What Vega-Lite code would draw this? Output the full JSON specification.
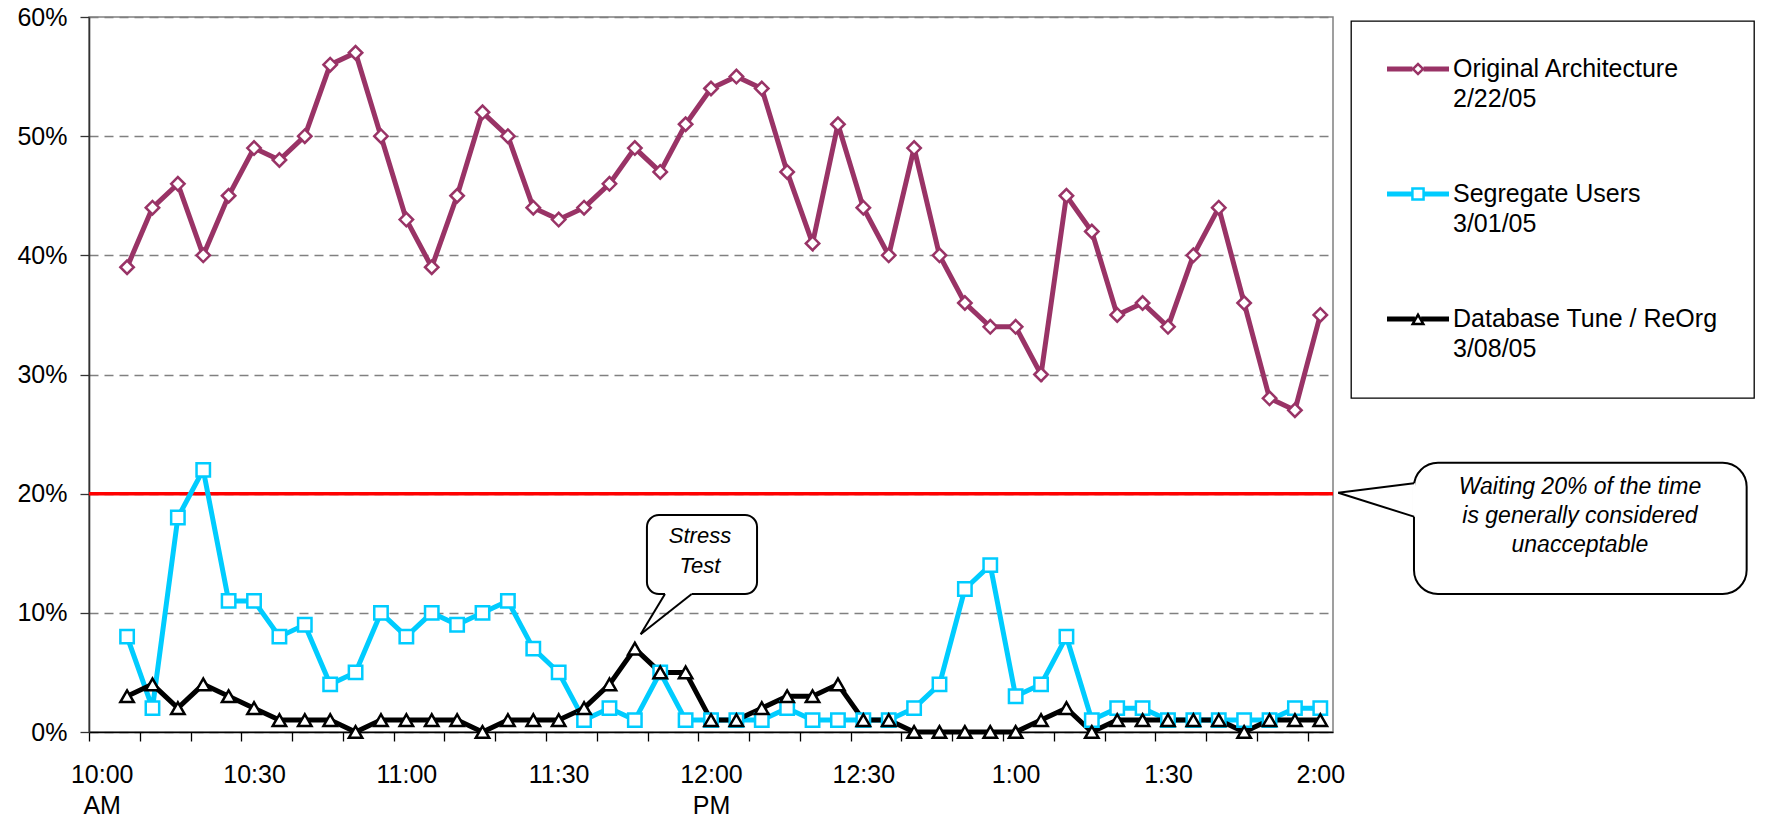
{
  "$schema": "https://vega.github.io/schema/vega-lite/v6.json",
  "width": 1244,
  "height": 715,
  "autosize": {"type": "none"},
  "padding": {"left": 89, "top": 17, "right": 443, "bottom": 87},
  "background": "white",
  "config": {
    "font": "Liberation Sans",
    "view": {"stroke": "#808080", "strokeWidth": 1.5},
    "legend": {"strokeWidth": 1.3}
  },
  "data": {
    "format": {"parse": {"time": "date:'%H:%M'"}},
    "values": [
      {"series": "Original Architecture", "time": "10:05", "pct": 39},
      {"series": "Original Architecture", "time": "10:10", "pct": 44},
      {"series": "Original Architecture", "time": "10:15", "pct": 46},
      {"series": "Original Architecture", "time": "10:20", "pct": 40},
      {"series": "Original Architecture", "time": "10:25", "pct": 45},
      {"series": "Original Architecture", "time": "10:30", "pct": 49},
      {"series": "Original Architecture", "time": "10:35", "pct": 48},
      {"series": "Original Architecture", "time": "10:40", "pct": 50},
      {"series": "Original Architecture", "time": "10:45", "pct": 56},
      {"series": "Original Architecture", "time": "10:50", "pct": 57},
      {"series": "Original Architecture", "time": "10:55", "pct": 50},
      {"series": "Original Architecture", "time": "11:00", "pct": 43},
      {"series": "Original Architecture", "time": "11:05", "pct": 39},
      {"series": "Original Architecture", "time": "11:10", "pct": 45},
      {"series": "Original Architecture", "time": "11:15", "pct": 52},
      {"series": "Original Architecture", "time": "11:20", "pct": 50},
      {"series": "Original Architecture", "time": "11:25", "pct": 44},
      {"series": "Original Architecture", "time": "11:30", "pct": 43},
      {"series": "Original Architecture", "time": "11:35", "pct": 44},
      {"series": "Original Architecture", "time": "11:40", "pct": 46},
      {"series": "Original Architecture", "time": "11:45", "pct": 49},
      {"series": "Original Architecture", "time": "11:50", "pct": 47},
      {"series": "Original Architecture", "time": "11:55", "pct": 51},
      {"series": "Original Architecture", "time": "12:00", "pct": 54},
      {"series": "Original Architecture", "time": "12:05", "pct": 55},
      {"series": "Original Architecture", "time": "12:10", "pct": 54},
      {"series": "Original Architecture", "time": "12:15", "pct": 47},
      {"series": "Original Architecture", "time": "12:20", "pct": 41},
      {"series": "Original Architecture", "time": "12:25", "pct": 51},
      {"series": "Original Architecture", "time": "12:30", "pct": 44},
      {"series": "Original Architecture", "time": "12:35", "pct": 40},
      {"series": "Original Architecture", "time": "12:40", "pct": 49},
      {"series": "Original Architecture", "time": "12:45", "pct": 40},
      {"series": "Original Architecture", "time": "12:50", "pct": 36},
      {"series": "Original Architecture", "time": "12:55", "pct": 34},
      {"series": "Original Architecture", "time": "13:00", "pct": 34},
      {"series": "Original Architecture", "time": "13:05", "pct": 30},
      {"series": "Original Architecture", "time": "13:10", "pct": 45},
      {"series": "Original Architecture", "time": "13:15", "pct": 42},
      {"series": "Original Architecture", "time": "13:20", "pct": 35},
      {"series": "Original Architecture", "time": "13:25", "pct": 36},
      {"series": "Original Architecture", "time": "13:30", "pct": 34},
      {"series": "Original Architecture", "time": "13:35", "pct": 40},
      {"series": "Original Architecture", "time": "13:40", "pct": 44},
      {"series": "Original Architecture", "time": "13:45", "pct": 36},
      {"series": "Original Architecture", "time": "13:50", "pct": 28},
      {"series": "Original Architecture", "time": "13:55", "pct": 27},
      {"series": "Original Architecture", "time": "14:00", "pct": 35},
      {"series": "Segregate Users", "time": "10:05", "pct": 8},
      {"series": "Segregate Users", "time": "10:10", "pct": 2},
      {"series": "Segregate Users", "time": "10:15", "pct": 18},
      {"series": "Segregate Users", "time": "10:20", "pct": 22},
      {"series": "Segregate Users", "time": "10:25", "pct": 11},
      {"series": "Segregate Users", "time": "10:30", "pct": 11},
      {"series": "Segregate Users", "time": "10:35", "pct": 8},
      {"series": "Segregate Users", "time": "10:40", "pct": 9},
      {"series": "Segregate Users", "time": "10:45", "pct": 4},
      {"series": "Segregate Users", "time": "10:50", "pct": 5},
      {"series": "Segregate Users", "time": "10:55", "pct": 10},
      {"series": "Segregate Users", "time": "11:00", "pct": 8},
      {"series": "Segregate Users", "time": "11:05", "pct": 10},
      {"series": "Segregate Users", "time": "11:10", "pct": 9},
      {"series": "Segregate Users", "time": "11:15", "pct": 10},
      {"series": "Segregate Users", "time": "11:20", "pct": 11},
      {"series": "Segregate Users", "time": "11:25", "pct": 7},
      {"series": "Segregate Users", "time": "11:30", "pct": 5},
      {"series": "Segregate Users", "time": "11:35", "pct": 1},
      {"series": "Segregate Users", "time": "11:40", "pct": 2},
      {"series": "Segregate Users", "time": "11:45", "pct": 1},
      {"series": "Segregate Users", "time": "11:50", "pct": 5},
      {"series": "Segregate Users", "time": "11:55", "pct": 1},
      {"series": "Segregate Users", "time": "12:00", "pct": 1},
      {"series": "Segregate Users", "time": "12:05", "pct": 1},
      {"series": "Segregate Users", "time": "12:10", "pct": 1},
      {"series": "Segregate Users", "time": "12:15", "pct": 2},
      {"series": "Segregate Users", "time": "12:20", "pct": 1},
      {"series": "Segregate Users", "time": "12:25", "pct": 1},
      {"series": "Segregate Users", "time": "12:30", "pct": 1},
      {"series": "Segregate Users", "time": "12:35", "pct": 1},
      {"series": "Segregate Users", "time": "12:40", "pct": 2},
      {"series": "Segregate Users", "time": "12:45", "pct": 4},
      {"series": "Segregate Users", "time": "12:50", "pct": 12},
      {"series": "Segregate Users", "time": "12:55", "pct": 14},
      {"series": "Segregate Users", "time": "13:00", "pct": 3},
      {"series": "Segregate Users", "time": "13:05", "pct": 4},
      {"series": "Segregate Users", "time": "13:10", "pct": 8},
      {"series": "Segregate Users", "time": "13:15", "pct": 1},
      {"series": "Segregate Users", "time": "13:20", "pct": 2},
      {"series": "Segregate Users", "time": "13:25", "pct": 2},
      {"series": "Segregate Users", "time": "13:30", "pct": 1},
      {"series": "Segregate Users", "time": "13:35", "pct": 1},
      {"series": "Segregate Users", "time": "13:40", "pct": 1},
      {"series": "Segregate Users", "time": "13:45", "pct": 1},
      {"series": "Segregate Users", "time": "13:50", "pct": 1},
      {"series": "Segregate Users", "time": "13:55", "pct": 2},
      {"series": "Segregate Users", "time": "14:00", "pct": 2},
      {"series": "Database Tune / ReOrg", "time": "10:05", "pct": 3},
      {"series": "Database Tune / ReOrg", "time": "10:10", "pct": 4},
      {"series": "Database Tune / ReOrg", "time": "10:15", "pct": 2},
      {"series": "Database Tune / ReOrg", "time": "10:20", "pct": 4},
      {"series": "Database Tune / ReOrg", "time": "10:25", "pct": 3},
      {"series": "Database Tune / ReOrg", "time": "10:30", "pct": 2},
      {"series": "Database Tune / ReOrg", "time": "10:35", "pct": 1},
      {"series": "Database Tune / ReOrg", "time": "10:40", "pct": 1},
      {"series": "Database Tune / ReOrg", "time": "10:45", "pct": 1},
      {"series": "Database Tune / ReOrg", "time": "10:50", "pct": 0},
      {"series": "Database Tune / ReOrg", "time": "10:55", "pct": 1},
      {"series": "Database Tune / ReOrg", "time": "11:00", "pct": 1},
      {"series": "Database Tune / ReOrg", "time": "11:05", "pct": 1},
      {"series": "Database Tune / ReOrg", "time": "11:10", "pct": 1},
      {"series": "Database Tune / ReOrg", "time": "11:15", "pct": 0},
      {"series": "Database Tune / ReOrg", "time": "11:20", "pct": 1},
      {"series": "Database Tune / ReOrg", "time": "11:25", "pct": 1},
      {"series": "Database Tune / ReOrg", "time": "11:30", "pct": 1},
      {"series": "Database Tune / ReOrg", "time": "11:35", "pct": 2},
      {"series": "Database Tune / ReOrg", "time": "11:40", "pct": 4},
      {"series": "Database Tune / ReOrg", "time": "11:45", "pct": 7},
      {"series": "Database Tune / ReOrg", "time": "11:50", "pct": 5},
      {"series": "Database Tune / ReOrg", "time": "11:55", "pct": 5},
      {"series": "Database Tune / ReOrg", "time": "12:00", "pct": 1},
      {"series": "Database Tune / ReOrg", "time": "12:05", "pct": 1},
      {"series": "Database Tune / ReOrg", "time": "12:10", "pct": 2},
      {"series": "Database Tune / ReOrg", "time": "12:15", "pct": 3},
      {"series": "Database Tune / ReOrg", "time": "12:20", "pct": 3},
      {"series": "Database Tune / ReOrg", "time": "12:25", "pct": 4},
      {"series": "Database Tune / ReOrg", "time": "12:30", "pct": 1},
      {"series": "Database Tune / ReOrg", "time": "12:35", "pct": 1},
      {"series": "Database Tune / ReOrg", "time": "12:40", "pct": 0},
      {"series": "Database Tune / ReOrg", "time": "12:45", "pct": 0},
      {"series": "Database Tune / ReOrg", "time": "12:50", "pct": 0},
      {"series": "Database Tune / ReOrg", "time": "12:55", "pct": 0},
      {"series": "Database Tune / ReOrg", "time": "13:00", "pct": 0},
      {"series": "Database Tune / ReOrg", "time": "13:05", "pct": 1},
      {"series": "Database Tune / ReOrg", "time": "13:10", "pct": 2},
      {"series": "Database Tune / ReOrg", "time": "13:15", "pct": 0},
      {"series": "Database Tune / ReOrg", "time": "13:20", "pct": 1},
      {"series": "Database Tune / ReOrg", "time": "13:25", "pct": 1},
      {"series": "Database Tune / ReOrg", "time": "13:30", "pct": 1},
      {"series": "Database Tune / ReOrg", "time": "13:35", "pct": 1},
      {"series": "Database Tune / ReOrg", "time": "13:40", "pct": 1},
      {"series": "Database Tune / ReOrg", "time": "13:45", "pct": 0},
      {"series": "Database Tune / ReOrg", "time": "13:50", "pct": 1},
      {"series": "Database Tune / ReOrg", "time": "13:55", "pct": 1},
      {"series": "Database Tune / ReOrg", "time": "14:00", "pct": 1}
    ]
  },
  "layer": [
    {
      "data": {"values": [{}]},
      "mark": {"type": "rule", "color": "#FF0000", "strokeWidth": 3.5},
      "encoding": {"y": {"datum": 20, "type": "quantitative"}}
    },
    {
      "mark": {"type": "line", "strokeWidth": 5, "strokeJoin": "miter"},
      "encoding": {
        "x": {
          "field": "time",
          "type": "temporal",
          "scale": {
            "type": "time",
            "nice": false,
            "domain": [
              {"year": 1900, "month": 1, "date": 1, "hours": 9, "minutes": 57, "seconds": 30},
              {"year": 1900, "month": 1, "date": 1, "hours": 14, "minutes": 2, "seconds": 30}
            ]
          },
          "axis": {
            "title": null,
            "grid": false,
            "values": [
              {"year": 1900, "month": 1, "date": 1, "hours": 9, "minutes": 57, "seconds": 30},
              {"year": 1900, "month": 1, "date": 1, "hours": 10, "minutes": 2, "seconds": 30},
              {"year": 1900, "month": 1, "date": 1, "hours": 10, "minutes": 7, "seconds": 30},
              {"year": 1900, "month": 1, "date": 1, "hours": 10, "minutes": 12, "seconds": 30},
              {"year": 1900, "month": 1, "date": 1, "hours": 10, "minutes": 17, "seconds": 30},
              {"year": 1900, "month": 1, "date": 1, "hours": 10, "minutes": 22, "seconds": 30},
              {"year": 1900, "month": 1, "date": 1, "hours": 10, "minutes": 27, "seconds": 30},
              {"year": 1900, "month": 1, "date": 1, "hours": 10, "minutes": 32, "seconds": 30},
              {"year": 1900, "month": 1, "date": 1, "hours": 10, "minutes": 37, "seconds": 30},
              {"year": 1900, "month": 1, "date": 1, "hours": 10, "minutes": 42, "seconds": 30},
              {"year": 1900, "month": 1, "date": 1, "hours": 10, "minutes": 47, "seconds": 30},
              {"year": 1900, "month": 1, "date": 1, "hours": 10, "minutes": 52, "seconds": 30},
              {"year": 1900, "month": 1, "date": 1, "hours": 10, "minutes": 57, "seconds": 30},
              {"year": 1900, "month": 1, "date": 1, "hours": 11, "minutes": 2, "seconds": 30},
              {"year": 1900, "month": 1, "date": 1, "hours": 11, "minutes": 7, "seconds": 30},
              {"year": 1900, "month": 1, "date": 1, "hours": 11, "minutes": 12, "seconds": 30},
              {"year": 1900, "month": 1, "date": 1, "hours": 11, "minutes": 17, "seconds": 30},
              {"year": 1900, "month": 1, "date": 1, "hours": 11, "minutes": 22, "seconds": 30},
              {"year": 1900, "month": 1, "date": 1, "hours": 11, "minutes": 27, "seconds": 30},
              {"year": 1900, "month": 1, "date": 1, "hours": 11, "minutes": 32, "seconds": 30},
              {"year": 1900, "month": 1, "date": 1, "hours": 11, "minutes": 37, "seconds": 30},
              {"year": 1900, "month": 1, "date": 1, "hours": 11, "minutes": 42, "seconds": 30},
              {"year": 1900, "month": 1, "date": 1, "hours": 11, "minutes": 47, "seconds": 30},
              {"year": 1900, "month": 1, "date": 1, "hours": 11, "minutes": 52, "seconds": 30},
              {"year": 1900, "month": 1, "date": 1, "hours": 11, "minutes": 57, "seconds": 30},
              {"year": 1900, "month": 1, "date": 1, "hours": 12, "minutes": 2, "seconds": 30},
              {"year": 1900, "month": 1, "date": 1, "hours": 12, "minutes": 7, "seconds": 30},
              {"year": 1900, "month": 1, "date": 1, "hours": 12, "minutes": 12, "seconds": 30},
              {"year": 1900, "month": 1, "date": 1, "hours": 12, "minutes": 17, "seconds": 30},
              {"year": 1900, "month": 1, "date": 1, "hours": 12, "minutes": 22, "seconds": 30},
              {"year": 1900, "month": 1, "date": 1, "hours": 12, "minutes": 27, "seconds": 30},
              {"year": 1900, "month": 1, "date": 1, "hours": 12, "minutes": 32, "seconds": 30},
              {"year": 1900, "month": 1, "date": 1, "hours": 12, "minutes": 37, "seconds": 30},
              {"year": 1900, "month": 1, "date": 1, "hours": 12, "minutes": 42, "seconds": 30},
              {"year": 1900, "month": 1, "date": 1, "hours": 12, "minutes": 47, "seconds": 30},
              {"year": 1900, "month": 1, "date": 1, "hours": 12, "minutes": 52, "seconds": 30},
              {"year": 1900, "month": 1, "date": 1, "hours": 12, "minutes": 57, "seconds": 30},
              {"year": 1900, "month": 1, "date": 1, "hours": 13, "minutes": 2, "seconds": 30},
              {"year": 1900, "month": 1, "date": 1, "hours": 13, "minutes": 7, "seconds": 30},
              {"year": 1900, "month": 1, "date": 1, "hours": 13, "minutes": 12, "seconds": 30},
              {"year": 1900, "month": 1, "date": 1, "hours": 13, "minutes": 17, "seconds": 30},
              {"year": 1900, "month": 1, "date": 1, "hours": 13, "minutes": 22, "seconds": 30},
              {"year": 1900, "month": 1, "date": 1, "hours": 13, "minutes": 27, "seconds": 30},
              {"year": 1900, "month": 1, "date": 1, "hours": 13, "minutes": 32, "seconds": 30},
              {"year": 1900, "month": 1, "date": 1, "hours": 13, "minutes": 37, "seconds": 30},
              {"year": 1900, "month": 1, "date": 1, "hours": 13, "minutes": 42, "seconds": 30},
              {"year": 1900, "month": 1, "date": 1, "hours": 13, "minutes": 47, "seconds": 30},
              {"year": 1900, "month": 1, "date": 1, "hours": 13, "minutes": 52, "seconds": 30},
              {"year": 1900, "month": 1, "date": 1, "hours": 13, "minutes": 57, "seconds": 30},
              {"year": 1900, "month": 1, "date": 1, "hours": 14, "minutes": 2, "seconds": 30}
            ],
            "labelExpr": "minutes(datum.value) % 30 != 27 ? '' : (hours(time(datum.value) + 150000) == 10 && minutes(time(datum.value) + 150000) == 0 ? ['10:00', 'AM'] : (hours(time(datum.value) + 150000) == 12 && minutes(time(datum.value) + 150000) == 0 ? ['12:00', 'PM'] : timeFormat(time(datum.value) + 150000, '%-I:%M')))",
            "labelOffset": 12.69,
            "labelFlush": false,
            "labelOverlap": false,
            "labelBound": false,
            "labelAlign": "center",
            "labelFont": "Liberation Sans",
            "labelFontSize": 25,
            "labelColor": "#000000",
            "labelLineHeight": 31,
            "labelPadding": 21,
            "tickSize": 9,
            "tickWidth": 1.3,
            "tickColor": "#000000",
            "domainColor": "#000000",
            "domainWidth": 1.6
          }
        },
        "y": {
          "field": "pct",
          "type": "quantitative",
          "scale": {"domain": [0, 60], "nice": false, "zero": true},
          "axis": {
            "title": null,
            "values": [0, 10, 20, 30, 40, 50, 60],
            "labelExpr": "datum.value + '%'",
            "grid": true,
            "gridDash": [9, 6],
            "gridColor": "#808080",
            "gridWidth": 1.3,
            "tickSize": 9,
            "tickWidth": 1.3,
            "tickColor": "#333333",
            "domainColor": "#333333",
            "domainWidth": 1.6,
            "labelPadding": 13,
            "labelFont": "Liberation Sans",
            "labelFontSize": 25,
            "labelColor": "#000000"
          }
        },
        "color": {
          "field": "series",
          "type": "nominal",
          "scale": {
            "domain": ["Original Architecture", "Segregate Users", "Database Tune / ReOrg"],
            "range": ["#993366", "#00CCFF", "#000000"]
          },
          "legend": {
            "title": null,
            "orient": "none",
            "legendX": 1262,
            "legendY": 4,
            "padding": 36,
            "rowPadding": 70,
            "labelOffset": 4,
            "symbolSize": 3844,
            "symbolStrokeWidth": 0,
            "labelFont": "Liberation Sans",
            "labelFontSize": 25,
            "labelColor": "#000000",
            "labelLimit": 600,
            "labelBaseline": "middle",
            "strokeColor": "#000000",
            "fillColor": "#ffffff",
            "labelExpr": "datum.label == 'Original Architecture' ? ['Original Architecture', '2/22/05'] : (datum.label == 'Segregate Users' ? ['Segregate Users', '3/01/05'] : ['Database Tune / ReOrg', '3/08/05'])",
            "encode": {
              "symbols": {
                "update": {
                  "y": {"value": 12},
                  "shape": {"signal": "datum.value == 'Original Architecture' ? 'M-1,-0.08L-0.18,-0.08L-0.18,0.08L-1,0.08ZM0.18,-0.08L1,-0.08L1,0.08L0.18,0.08ZM0,-0.22L0.22,0L0,0.22L-0.22,0ZM0,-0.107L-0.107,0L0,0.107L0.107,0Z' : (datum.value == 'Segregate Users' ? 'M-1,-0.08L-0.19,-0.08L-0.19,0.08L-1,0.08ZM0.19,-0.08L1,-0.08L1,0.08L0.19,0.08ZM-0.22,-0.22L0.22,-0.22L0.22,0.22L-0.22,0.22ZM-0.14,-0.14L-0.14,0.14L0.14,0.14L0.14,-0.14Z' : 'M-1,-0.08L-0.1,-0.08L-0.1,0.08L-1,0.08ZM0.1,-0.08L1,-0.08L1,0.08L0.1,0.08ZM0,-0.22L0.24,0.2L-0.24,0.2ZM0,-0.059L-0.102,0.12L0.102,0.12Z')"},
                  "fill": {"signal": "scale('color', datum.value)"},
                  "stroke": {"value": "transparent"},
                  "strokeWidth": {"value": 0},
                  "opacity": {"value": 1}
                }
              },
              "labels": {
                "update": {
                  "y": {"value": 12},
                  "lineHeight": {"value": 30}
                }
              }
            }
          }
        }
      }
    },
    {
      "mark": {"type": "point", "filled": false, "fill": "white", "strokeWidth": 2.5, "size": 180, "opacity": 1},
      "encoding": {
        "x": {"field": "time", "type": "temporal"},
        "y": {"field": "pct", "type": "quantitative"},
        "color": {"field": "series", "type": "nominal", "legend": null},
        "shape": {
          "condition": [
            {"test": "datum.series == 'Segregate Users'", "value": "square"},
            {"test": "datum.series == 'Database Tune / ReOrg'", "value": "triangle-up"}
          ],
          "value": "diamond"
        }
      }
    },
    {
      "data": {"values": [{}]},
      "mark": {"type": "rect", "fill": "white", "stroke": "black", "strokeWidth": 2, "cornerRadius": 12},
      "encoding": {
        "x": {"datum": {"year": 1900, "month": 1, "date": 1, "hours": 11, "minutes": 47, "seconds": 23}, "type": "temporal"},
        "x2": {"datum": {"year": 1900, "month": 1, "date": 1, "hours": 12, "minutes": 9, "seconds": 4}},
        "y": {"datum": 18.21, "type": "quantitative"},
        "y2": {"datum": 11.58}
      }
    },
    {
      "data": {"values": [{}]},
      "mark": {"type": "rule", "stroke": "white", "strokeWidth": 3},
      "encoding": {
        "x": {"datum": {"year": 1900, "month": 1, "date": 1, "hours": 11, "minutes": 50, "seconds": 56}, "type": "temporal"},
        "x2": {"datum": {"year": 1900, "month": 1, "date": 1, "hours": 11, "minutes": 56, "seconds": 12}},
        "y": {"datum": 11.58, "type": "quantitative"},
        "y2": {"datum": 11.58}
      }
    },
    {
      "data": {"values": [{}]},
      "mark": {"type": "rule", "stroke": "black", "strokeWidth": 2},
      "encoding": {
        "x": {"datum": {"year": 1900, "month": 1, "date": 1, "hours": 11, "minutes": 50, "seconds": 56}, "type": "temporal"},
        "x2": {"datum": {"year": 1900, "month": 1, "date": 1, "hours": 11, "minutes": 46, "seconds": 9}},
        "y": {"datum": 11.58, "type": "quantitative"},
        "y2": {"datum": 8.2}
      }
    },
    {
      "data": {"values": [{}]},
      "mark": {"type": "rule", "stroke": "black", "strokeWidth": 2},
      "encoding": {
        "x": {"datum": {"year": 1900, "month": 1, "date": 1, "hours": 11, "minutes": 46, "seconds": 9}, "type": "temporal"},
        "x2": {"datum": {"year": 1900, "month": 1, "date": 1, "hours": 11, "minutes": 56, "seconds": 12}},
        "y": {"datum": 8.2, "type": "quantitative"},
        "y2": {"datum": 11.58}
      }
    },
    {
      "data": {"values": [{}]},
      "mark": {"type": "text", "text": ["Stress", "Test"], "font": "Liberation Sans", "fontStyle": "italic", "fontSize": 22, "lineHeight": 30, "align": "center", "baseline": "middle", "fill": "#000000"},
      "encoding": {
        "x": {"datum": {"year": 1900, "month": 1, "date": 1, "hours": 11, "minutes": 57, "seconds": 50}, "type": "temporal"},
        "y": {"datum": 16.43, "type": "quantitative"}
      }
    },
    {
      "data": {"values": [{}]},
      "mark": {"type": "rect", "fill": "white", "stroke": "black", "strokeWidth": 2, "cornerRadius": 24},
      "encoding": {
        "x": {"datum": {"year": 1900, "month": 1, "date": 1, "hours": 14, "minutes": 18, "seconds": 27}, "type": "temporal"},
        "x2": {"datum": {"year": 1900, "month": 1, "date": 1, "hours": 15, "minutes": 23, "seconds": 58}},
        "y": {"datum": 22.6, "type": "quantitative"},
        "y2": {"datum": 11.58}
      }
    },
    {
      "data": {"values": [{}]},
      "mark": {"type": "rule", "stroke": "white", "strokeWidth": 3},
      "encoding": {
        "x": {"datum": {"year": 1900, "month": 1, "date": 1, "hours": 14, "minutes": 18, "seconds": 27}, "type": "temporal"},
        "y": {"datum": 20.87, "type": "quantitative"},
        "y2": {"datum": 18.07}
      }
    },
    {
      "data": {"values": [{}]},
      "mark": {"type": "rule", "stroke": "black", "strokeWidth": 2},
      "encoding": {
        "x": {"datum": {"year": 1900, "month": 1, "date": 1, "hours": 14, "minutes": 18, "seconds": 27}, "type": "temporal"},
        "x2": {"datum": {"year": 1900, "month": 1, "date": 1, "hours": 14, "minutes": 3, "seconds": 32}},
        "y": {"datum": 20.87, "type": "quantitative"},
        "y2": {"datum": 20.08}
      }
    },
    {
      "data": {"values": [{}]},
      "mark": {"type": "rule", "stroke": "black", "strokeWidth": 2},
      "encoding": {
        "x": {"datum": {"year": 1900, "month": 1, "date": 1, "hours": 14, "minutes": 3, "seconds": 32}, "type": "temporal"},
        "x2": {"datum": {"year": 1900, "month": 1, "date": 1, "hours": 14, "minutes": 18, "seconds": 27}},
        "y": {"datum": 20.08, "type": "quantitative"},
        "y2": {"datum": 18.07}
      }
    },
    {
      "data": {"values": [{}]},
      "mark": {"type": "text", "text": ["Waiting 20% of the time", "is generally considered", "unacceptable"], "font": "Liberation Sans", "fontStyle": "italic", "fontSize": 23, "lineHeight": 29, "align": "center", "baseline": "middle", "fill": "#000000"},
      "encoding": {
        "x": {"datum": {"year": 1900, "month": 1, "date": 1, "hours": 14, "minutes": 51, "seconds": 8}, "type": "temporal"},
        "y": {"datum": 20.58, "type": "quantitative"}
      }
    }
  ]
}
